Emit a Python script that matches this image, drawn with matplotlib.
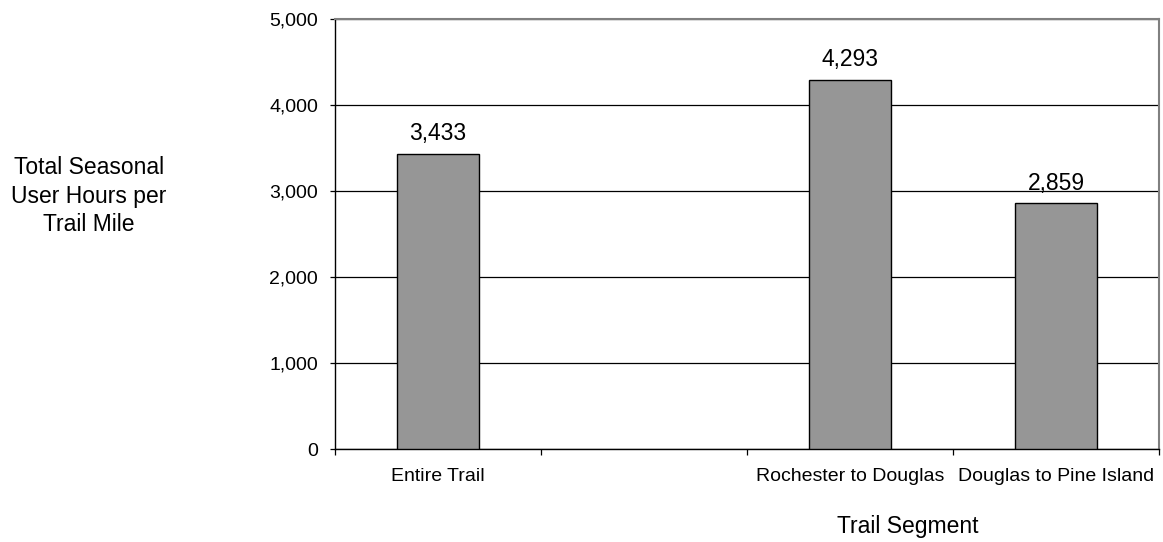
import matplotlib
matplotlib.use("Agg")
import matplotlib.pyplot as plt
import numpy as np

categories = ["Entire Trail", "", "Rochester to Douglas", "Douglas to Pine Island"]
values = [3433, None, 4293, 2859]
yticks = [0, 1000, 2000, 3000, 4000, 5000]

plt.rcParams['font.family'] = ['Liberation Sans', 'DejaVu Sans']

fig = plt.figure(figsize=(11.63, 5.42), dpi=100)
ax = fig.add_axes([335/1163, 1 - 449/542, (1159 - 335)/1163, (449 - 19)/542])

x = np.arange(len(categories))
for xi, v in zip(x, values):
    if v is None:
        continue
    ax.bar(xi, v, width=0.4, color='#969696', edgecolor='black', linewidth=1.0, zorder=3)
    ax.annotate(f"{v:,}", (xi, v), xytext=(0, 6), textcoords='offset points',
                ha='center', va='bottom', fontsize=16.5)

ax.set_xlim(-0.5, len(categories) - 0.5)
ax.set_ylim(0, 5000)
ax.set_yticks(yticks)
ax.set_yticklabels([f"{t:,}" for t in yticks], fontsize=14)
ax.yaxis.grid(True, color='black', linewidth=0.9, zorder=0)
ax.set_axisbelow(True)

ax.set_xticks(np.arange(-0.5, len(categories), 1.0))
ax.set_xticklabels([])
ax.set_xticks(x, minor=True)
ax.set_xticklabels(categories, minor=True, fontsize=14)
ax.tick_params(axis='x', which='minor', length=0, pad=14)
ax.tick_params(axis='x', which='major', direction='out', length=4.3, width=0.9, color='black')
ax.tick_params(axis='y', direction='out', length=3.6, width=0.9, pad=8.5)

for s in ['left', 'bottom']:
    ax.spines[s].set_color('black')
    ax.spines[s].set_linewidth(1.0)
for s in ['top', 'right']:
    ax.spines[s].set_color('#808080')
    ax.spines[s].set_linewidth(1.5)

fig.text(908/1163, 1 - 527/542, "Trail Segment", ha='center', va='center', fontsize=16.5)
fig.text(89/1163, 1 - 196/542, "Total Seasonal\nUser Hours per\nTrail Mile", ha='center', va='center',
         fontsize=16.5, linespacing=1.3)

fig.savefig("out.png", dpi=100)
